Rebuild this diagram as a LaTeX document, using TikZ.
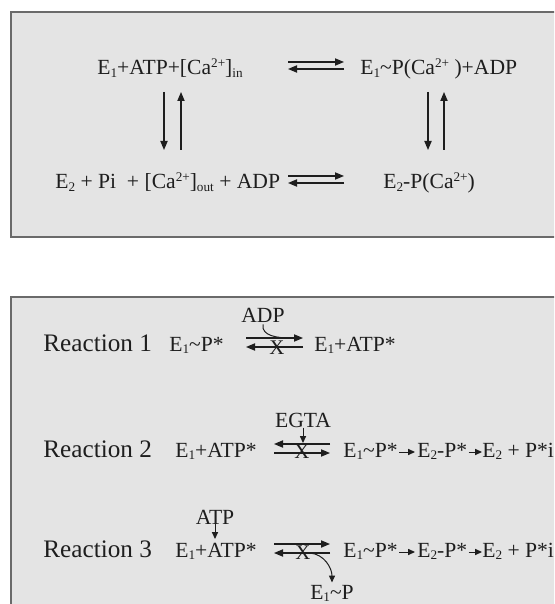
\documentclass[tikz,border=0pt]{standalone}
\usepackage{fontspec}
\setmainfont{Liberation Serif}
\usepackage{xcolor}
\usetikzlibrary{arrows.meta, positioning, calc}

\definecolor{panelgray}{HTML}{E4E4E4}
\definecolor{paneledge}{HTML}{6A6A6A}
\definecolor{inkgray}{HTML}{1E1E1E}

\newcommand{\lo}[1]{\raisebox{-0.3ex}{\fontsize{6.6}{7}\selectfont #1}}
\newcommand{\hi}[1]{\raisebox{0.75ex}{\fontsize{6.6}{7}\selectfont #1}}
\newcommand{\Eone}{E\lo{1}}
\newcommand{\Etwo}{E\lo{2}}
\newcommand{\Caion}{Ca\hi{2+}}

\begin{document}
\begin{tikzpicture}[x=0.5pt,y=-0.5pt,
  chem/.style={inner sep=0pt, anchor=base west, text=inkgray, font=\fontsize{10.8}{13}\selectfont},
  rlabel/.style={inner sep=0pt, anchor=base west, text=inkgray, font=\fontsize{12.6}{15}\selectfont},
  tag/.style={inner sep=0pt, anchor=base, text=inkgray, font=\fontsize{10.8}{13}\selectfont},
  cross/.style={inner sep=0pt, text=inkgray, font=\fontsize{10.4}{12}\selectfont},
  rx/.style={draw=inkgray, line width=0.6pt, -{Triangle[length=4.5pt,width=3.6pt]}},
  sm/.style={draw=inkgray, line width=0.5pt, -{Triangle[length=3.4pt,width=3pt]}},
  panel/.style={fill=panelgray, draw=paneledge, line width=1pt}]

  % Page
  \useasboundingbox (0,0) rectangle (554,604);
  \fill[white] (0,0) rectangle (554,604);
  \clip (0,0) rectangle (554,604);

  % Panels
  \draw[panel] (11,12) rectangle (580,237);
  \draw[panel] (11,297) rectangle (580,640);

  % Cycle
  \node[chem] (tl) at (97,75) {\Eone+ATP+[\Caion]\lo{in}};
  \node[chem] (tr) at (360,75) {\Eone\textasciitilde P(\Caion{} )+ADP};
  \node[chem] (bl) at (55,189) {\Etwo{} + Pi~ + [\Caion]\lo{out} + ADP};
  \node[chem] (br) at (383,189) {\Etwo-P(\Caion)};

  \coordinate (ta) at (288,62);  \coordinate (tb) at (344,62);
  \coordinate (tc) at (344,69);  \coordinate (td) at (288,69);
  \coordinate (ba) at (288,176); \coordinate (bb) at (344,176);
  \coordinate (bc) at (344,183); \coordinate (bd) at (288,183);
  \draw[rx] (ta) -- (tb);
  \draw[rx] (tc) -- (td);
  \draw[rx] (ba) -- (bb);
  \draw[rx] (bc) -- (bd);

  \coordinate (lu) at (164,92);  \coordinate (ld) at (164,150);
  \coordinate (mu) at (181,92);  \coordinate (md) at (181,150);
  \coordinate (ru) at (428,92);  \coordinate (rd) at (428,150);
  \coordinate (su) at (444,92);  \coordinate (sd) at (444,150);
  \draw[rx] (lu) -- (ld);
  \draw[rx] (md) -- (mu);
  \draw[rx] (ru) -- (rd);
  \draw[rx] (sd) -- (su);

  % Reaction 1
  \node[rlabel] (r1) at (43,351) {Reaction 1};
  \node[chem] (r1s) at (169,351) {\Eone\textasciitilde P*};
  \node[chem] (r1p) at (314,351) {\Eone+ATP*};
  \node[tag] (adp) at (263,322) {ADP};
  \coordinate (r1a) at (246,338); \coordinate (r1b) at (303,338);
  \coordinate (r1c) at (303,347); \coordinate (r1d) at (246,347);
  \coordinate (r1m) at (290,338);
  \draw[rx] (r1a) -- (r1b);
  \draw[rx] (r1c) -- (r1d);
  \node[cross] (x1) at (277,348) {X};
  \draw[draw=inkgray, line width=0.5pt] ([yshift=-1pt]adp.south) to[out=-100,in=180] (r1m);

  % Reaction 2
  \node[rlabel] (r2) at (43,457) {Reaction 2};
  \node[chem] (r2s) at (175,457) {\Eone+ATP*};
  \node[chem] (r2p) at (343,457) {\Eone\textasciitilde P*};
  \node[chem] (r2q) at (417,457) {\Etwo-P*};
  \node[chem] (r2r) at (482,457) {\Etwo{} + P*i};
  \node[tag] (egta) at (303,427) {EGTA};
  \coordinate (r2a) at (330,444); \coordinate (r2b) at (274,444);
  \coordinate (r2c) at (274,453); \coordinate (r2d) at (330,453);
  \coordinate (r2m) at (303,443);
  \draw[rx] (r2a) -- (r2b);
  \draw[rx] (r2c) -- (r2d);
  \node[cross] (x2) at (302,452) {X};
  \draw[sm] (egta.south) -- (r2m);
  \draw[sm] ($(r2p.base east)+(1,-5)$) -- ($(r2q.base west)+(-2,-5)$);
  \draw[sm] ($(r2q.base east)+(1,-5)$) -- ($(r2r.base west)+(0,-5)$);

  % Reaction 3
  \node[rlabel] (r3) at (43,557) {Reaction 3};
  \node[chem] (r3s) at (175,557) {\Eone+ATP*};
  \node[chem] (r3p) at (343,557) {\Eone\textasciitilde P*};
  \node[chem] (r3q) at (417,557) {\Etwo-P*};
  \node[chem] (r3r) at (482,557) {\Etwo{} + P*i};
  \node[tag] (atp) at (215,524) {ATP};
  \node[tag] (e1p) at (332,599) {\Eone\textasciitilde P};
  \coordinate (r3a) at (274,544); \coordinate (r3b) at (330,544);
  \coordinate (r3c) at (330,553); \coordinate (r3d) at (274,553);
  \coordinate (r3t) at (215,539);
  \coordinate (r3m) at (310,553);
  \draw[rx] (r3a) -- (r3b);
  \draw[rx] (r3c) -- (r3d);
  \node[cross] (x3) at (303,553) {X};
  \draw[sm] (atp.south) -- (r3t);
  \draw[sm] (r3m) to[out=-5,in=90] ([yshift=1pt]e1p.north);
  \draw[sm] ($(r3p.base east)+(1,-5)$) -- ($(r3q.base west)+(-2,-5)$);
  \draw[sm] ($(r3q.base east)+(1,-5)$) -- ($(r3r.base west)+(0,-5)$);
\end{tikzpicture}
\end{document}
